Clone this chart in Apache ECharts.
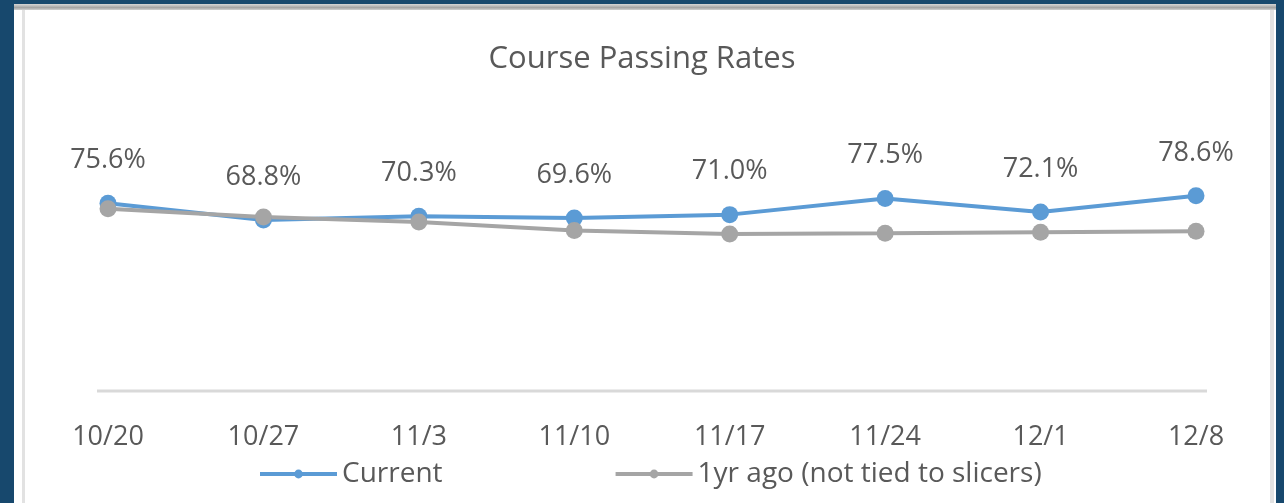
<!DOCTYPE html>
<html>
<head>
<meta charset="utf-8">
<script src="https://cdn.jsdelivr.net/npm/echarts@6/dist/echarts.min.js"></script>
<style>
  html, body { margin: 0; padding: 0; background: #17486d; }
  #frame { position: absolute; left: 14px; top: 4px; width: 1262px; height: 499px; background: #fff; }
  #topbar { position: absolute; left: 14px; top: 4px; width: 1262px; height: 6px;
    background: linear-gradient(#d6d6d6, #a3a3a3 60%, #d0d0d0); }
  #lside { position: absolute; left: 22px; top: 10px; width: 3px; height: 493px; background: #e2e2e2; }
  #rside { position: absolute; left: 1270px; top: 10px; width: 4px; height: 493px; background: #e2e2e2; }
  #main { position: absolute; left: 0; top: 0; width: 1284px; height: 503px; }
</style>
</head>
<body>
<div id="frame"></div>
<div id="topbar"></div>
<div id="lside"></div>
<div id="rside"></div>
<div id="main"></div>
<script>
var weeks = ['10/20', '10/27', '11/3', '11/10', '11/17', '11/24', '12/1', '12/8'];
var current = [75.6, 68.8, 70.3, 69.6, 71.0, 77.5, 72.1, 78.6];
var yearAgo = [73.4, 70.0, 68.0, 64.6, 63.2, 63.5, 63.9, 64.3];

var font = '"Open Sans", "Noto Sans", sans-serif';
var txt = '#595959';

var chart = echarts.init(document.getElementById('main'), null, { renderer: 'canvas' });

var option = {
  backgroundColor: 'transparent',
  animation: false,
  title: {
    text: 'Course Passing Rates',
    left: 'center',
    top: 39,
    textStyle: { color: txt, fontFamily: font, fontSize: 31, fontWeight: 'normal' }
  },
  legend: {
    left: 258,
    top: 459,
    padding: 0,
    itemWidth: 77,
    itemHeight: 11,
    itemGap: 171,
    lineStyle: { width: 4 },
    textStyle: { color: txt, fontFamily: font, fontSize: 28, lineHeight: 30 },
    data: ['Current', '1yr ago (not tied to slicers)']
  },
  grid: { left: 108, right: 88, top: 143, bottom: 113 },
  xAxis: {
    type: 'category',
    boundaryGap: false,
    data: weeks,
    axisLine: { show: false },
    axisTick: { show: false },
    axisLabel: { color: txt, fontFamily: font, fontSize: 27, margin: 34 }
  },
  yAxis: {
    type: 'value',
    min: 0,
    max: 100,
    show: false,
    splitLine: { show: false }
  },
  graphic: [{
    type: 'line',
    shape: { x1: 97, y1: 391, x2: 1207, y2: 391 },
    style: { stroke: '#d9d9d9', lineWidth: 3 },
    z: 0
  }],
  series: [{
    name: 'Current',
    type: 'line',
    data: current,
    symbol: 'circle',
    symbolSize: 17,
    showAllSymbol: true,
    itemStyle: { color: '#5b9bd5' },
    lineStyle: { color: '#5b9bd5', width: 4 },
    label: {
      show: true,
      position: 'top',
      distance: 21,
      color: txt,
      fontFamily: font,
      fontSize: 27,
      formatter: function (p) { return p.value.toFixed(1) + '%'; }
    }
  }, {
    name: '1yr ago (not tied to slicers)',
    type: 'line',
    data: yearAgo,
    symbol: 'circle',
    symbolSize: 17,
    showAllSymbol: true,
    itemStyle: { color: '#a5a5a5' },
    lineStyle: { color: '#a5a5a5', width: 4 }
  }]
};

chart.setOption(option);
</script>
</body>
</html>
